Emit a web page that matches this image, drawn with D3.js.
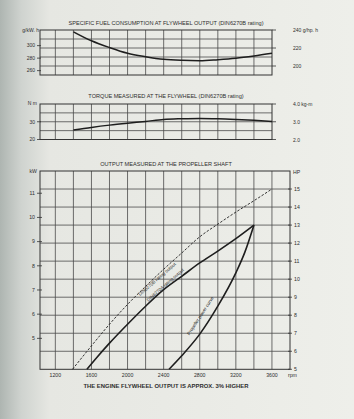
<!DOCTYPE html>
<html><head><meta charset="utf-8">
<script src="https://cdn.jsdelivr.net/npm/d3@7"></script>
<style>
html,body{margin:0;padding:0;background:#ebece7;}
svg{display:block;}
text{font-family:"Liberation Sans",Arial,sans-serif;fill:#2e2e2e;}
</style></head>
<body>
<svg id="c" width="354" height="419"></svg>
<script>
// ---- data ----
const rpmTickLabels = [1200, 1600, 2000, 2400, 2800, 3200, 3600];
const sfcRpm = [1400, 1600, 1800, 2000, 2200, 2400, 2600, 2800, 3000, 3200, 3400, 3600];
const sfcGhp = [238, 228, 220.5, 214.2, 210.4, 207.5, 206.3, 205.9, 207, 208.6, 211.1, 214.1];
const sfcLeftTicks = [300, 280, 260];
const sfcRightTicks = [240, 220, 200];
const torqueRpm = [1400, 1600, 1800, 2000, 2200, 2400, 2600, 2800, 3000, 3200, 3400, 3600];
const torqueKgm = [2.53, 2.68, 2.81, 2.92, 3.02, 3.13, 3.17, 3.19, 3.17, 3.13, 3.08, 3.02];
const torqueLeftTicks = [30, 20];
const torqueRightTicks = [4.0, 3.0, 2.0];
const dinBRpm = [1390, 1600, 1800, 2000, 2200, 2400, 2600, 2800, 3000, 3200, 3400, 3600];
const dinBHp  = [5, 6.3, 7.5, 8.6, 9.6, 10.55, 11.45, 12.35, 13.05, 13.72, 14.35, 15];
const dinARpm = [1550, 1650, 1800, 2000, 2200, 2400, 2600, 2800, 3000, 3200, 3400];
const dinAHp  = [5, 5.6, 6.45, 7.5, 8.5, 9.42, 10.16, 10.9, 11.56, 12.25, 13];
const propRpm = [2460, 2600, 2800, 3000, 3200, 3300, 3400];
const propHp  = [5, 5.75, 6.95, 8.5, 10.35, 11.5, 13];
const kwTicks = [5, 6, 7, 8, 9, 10, 11];
const hpTicks = [5, 6, 7, 8, 9, 10, 11, 12, 13, 14, 15];

const svg = d3.select("#c");
// paper background with scan shading on the left
const defs = svg.append("defs");
const g1 = defs.append("linearGradient").attr("id","shade").attr("x1","0").attr("x2","1").attr("y1","0").attr("y2","0");
g1.append("stop").attr("offset","0").attr("stop-color","#aeb5b1");
g1.append("stop").attr("offset","0.06").attr("stop-color","#cfd3cf");
g1.append("stop").attr("offset","0.14").attr("stop-color","#e6e7e2");
g1.append("stop").attr("offset","1").attr("stop-color","#eeefea");
svg.append("rect").attr("width",354).attr("height",419).attr("fill","url(#shade)");

const GRID = "#4a4a4a";
const L = 40;

function title(txt, y) {
  svg.append("text").attr("x",166).attr("y",y).attr("text-anchor","middle")
    .attr("font-size",5.6).text(txt);
}

// ---------- SFC chart ----------
const xTop = d3.scaleLinear().domain([1030, 3600]).range([L, 272]);
const ySfcR = d3.scaleLinear().domain([190, 240]).range([75, 30]);
const ySfcL = d3.scaleLinear().domain([253, 325]).range([75, 30]);
function gridPanel(xs, ys, vLines, hLines) {
  const g = svg.append("g");
  vLines.forEach(v => g.append("line").attr("x1",xs(v)).attr("x2",xs(v))
    .attr("y1",ys.range()[1]).attr("y2",ys.range()[0]).attr("stroke",GRID).attr("stroke-width",0.8));
  hLines.forEach(h => g.append("line").attr("x1",xs.range()[0]).attr("x2",xs.range()[1])
    .attr("y1",ys(h)).attr("y2",ys(h)).attr("stroke",GRID).attr("stroke-width",0.8));
  g.append("rect").attr("x",xs.range()[0]).attr("y",ys.range()[1])
    .attr("width",xs.range()[1]-xs.range()[0]).attr("height",ys.range()[0]-ys.range()[1])
    .attr("fill","none").attr("stroke","#333").attr("stroke-width",1);
}
gridPanel(xTop, ySfcR, d3.range(1200, 3600, 200), d3.range(200, 240, 10));
title("SPECIFIC FUEL CONSUMPTION AT FLYWHEEL OUTPUT (DIN6270B rating)", 25);
svg.append("text").attr("x",39).attr("y",32).attr("text-anchor","end").attr("font-size",5).text("g/kW. h");
sfcLeftTicks.forEach(t => {
  svg.append("line").attr("x1",37).attr("x2",41).attr("y1",ySfcL(t)).attr("y2",ySfcL(t)).attr("stroke","#333").attr("stroke-width",0.8);
  svg.append("text").attr("x",35).attr("y",ySfcL(t)+1.8).attr("text-anchor","end").attr("font-size",5).text(t);
});
sfcRightTicks.forEach(t => {
  svg.append("line").attr("x1",272).attr("x2",276).attr("y1",ySfcR(t)).attr("y2",ySfcR(t)).attr("stroke","#333").attr("stroke-width",0.8);
  svg.append("text").attr("x",293).attr("y",ySfcR(t)+2).attr("font-size",5).text(t === 240 ? "240 g/hp. h" : t);
});
const lineSfc = d3.line().x((d,i)=>xTop(sfcRpm[i])).y(d=>ySfcR(d)).curve(d3.curveMonotoneX);
svg.append("path").attr("d",lineSfc(sfcGhp)).attr("fill","none").attr("stroke","#1e1e1e").attr("stroke-width",1.5);

// ---------- Torque chart ----------
const yTqR = d3.scaleLinear().domain([2.0, 4.0]).range([139.5, 104]);
const yTqL = d3.scaleLinear().domain([20, 40]).range([139.5, 104]);
gridPanel(xTop, yTqR, d3.range(1200, 3600, 200), [2.5, 3.0, 3.5]);
title("TORQUE MEASURED AT THE FLYWHEEL (DIN6270B rating)", 98);
svg.append("text").attr("x",37).attr("y",105).attr("text-anchor","end").attr("font-size",5).text("N m");
torqueLeftTicks.forEach(t => {
  svg.append("line").attr("x1",37).attr("x2",41).attr("y1",yTqL(t)).attr("y2",yTqL(t)).attr("stroke","#333").attr("stroke-width",0.8);
  svg.append("text").attr("x",35).attr("y",yTqL(t)+1.8).attr("text-anchor","end").attr("font-size",5).text(t);
});
torqueRightTicks.forEach(t => {
  svg.append("line").attr("x1",272).attr("x2",276).attr("y1",yTqR(t)).attr("y2",yTqR(t)).attr("stroke","#333").attr("stroke-width",0.8);
  svg.append("text").attr("x",293).attr("y",yTqR(t)+2).attr("font-size",5).text(t === 4 ? "4.0 kg-m" : t.toFixed(1));
});
const lineTq = d3.line().x((d,i)=>xTop(torqueRpm[i])).y(d=>yTqR(d)).curve(d3.curveMonotoneX);
svg.append("path").attr("d",lineTq(torqueKgm)).attr("fill","none").attr("stroke","#1e1e1e").attr("stroke-width",1.5);

// ---------- Output chart ----------
const xM = d3.scaleLinear().domain([1030, 3800]).range([L, 290]);
const yHp = d3.scaleLinear().domain([5, 16]).range([369.3, 171]);
const yKw = d3.scaleLinear().domain([3.72, 11.92]).range([369.3, 171]);
gridPanel(xM, yHp, d3.range(1200, 3800, 200), d3.range(6, 16, 1));
title("OUTPUT MEASURED AT THE PROPELLER SHAFT", 166);
svg.append("text").attr("x",37).attr("y",173).attr("text-anchor","end").attr("font-size",5.2).text("kW");
kwTicks.forEach(t => {
  svg.append("line").attr("x1",37).attr("x2",42).attr("y1",yKw(t)).attr("y2",yKw(t)).attr("stroke","#333").attr("stroke-width",0.8);
  svg.append("text").attr("x",35).attr("y",yKw(t)+1.8).attr("text-anchor","end").attr("font-size",5.2).text(t);
});
svg.append("text").attr("x",293).attr("y",173.5).attr("font-size",5.2).text("HP");
hpTicks.forEach(t => {
  svg.append("line").attr("x1",288).attr("x2",292).attr("y1",yHp(t)).attr("y2",yHp(t)).attr("stroke","#333").attr("stroke-width",0.8);
  svg.append("text").attr("x",294).attr("y",yHp(t)+1.8).attr("font-size",5.2).text(t);
});
rpmTickLabels.forEach(t => {
  svg.append("text").attr("x",xM(t)).attr("y",377).attr("text-anchor","middle").attr("font-size",5.2).text(t);
});
svg.append("text").attr("x",288).attr("y",377).attr("font-size",5.2).text("rpm");

const lineM = (rs) => d3.line().x((d,i)=>xM(rs[i])).y(d=>yHp(d)).curve(d3.curveMonotoneX);
svg.append("path").attr("d",lineM(dinBRpm)(dinBHp)).attr("fill","none").attr("stroke","#1e1e1e")
  .attr("stroke-width",0.9).attr("stroke-dasharray","2.5,1.6");
svg.append("path").attr("d",lineM(dinARpm)(dinAHp)).attr("fill","none").attr("stroke","#1e1e1e").attr("stroke-width",1.6);
svg.append("path").attr("d",lineM(propRpm)(propHp)).attr("fill","none").attr("stroke","#1e1e1e").attr("stroke-width",1.6);

function rotLabel(rpm, hp, ang, txt, dy) {
  svg.append("text").attr("transform",`translate(${xM(rpm)},${yHp(hp)}) rotate(${ang})`)
    .attr("text-anchor","middle").attr("dy",dy).attr("font-size",4.6).text(txt);
}
rotLabel(2300, 10.15, -41, "DIN6270B rating output", 5.2);
rotLabel(2440, 9.55, -41, "DIN6270A rating output", -1.6);
rotLabel(2822, 7.92, -57, "Propeller power curve", 0);

svg.append("text").attr("x",166).attr("y",388).attr("text-anchor","middle").attr("font-size",5.9)
  .attr("font-weight","bold").text("THE ENGINE FLYWHEEL OUTPUT IS APPROX. 3% HIGHER");
</script>
</body></html>
